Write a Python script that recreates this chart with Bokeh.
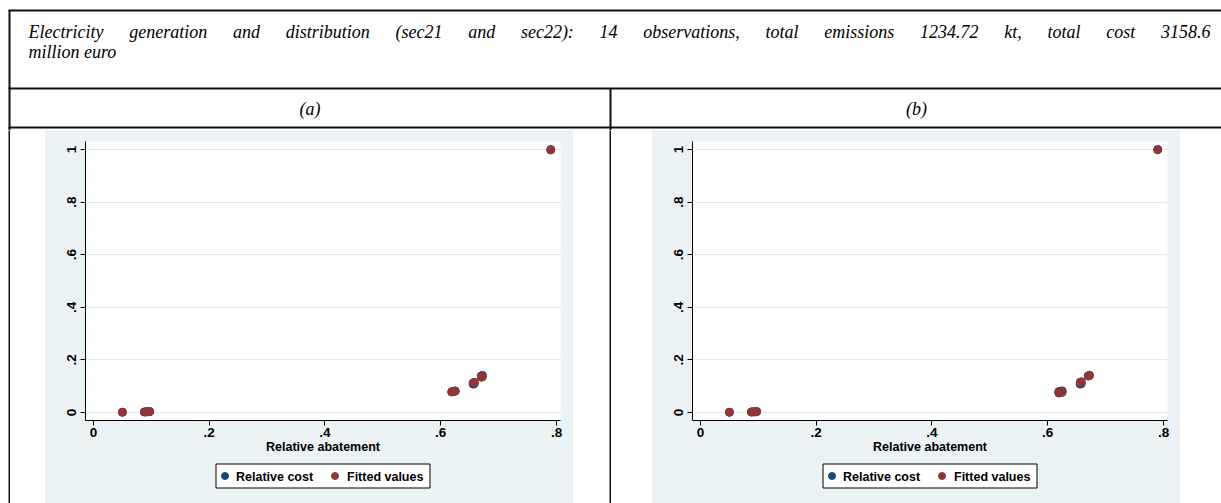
from bokeh.plotting import figure
from bokeh.models import Range1d, FixedTicker
from bokeh.layouts import column, row
from bokeh.embed import file_html
from bokeh.resources import INLINE
from bokeh.core.properties import value

# ---------------- data ----------------
title_line1 = ("Electricity generation and distribution (sec21 and sec22): 14 observations, "
               "total emissions 1234.72 kt, total cost 3158.6")
title_line2 = "million euro"
panel_labels = ["(a)", "(b)"]

abatement = [0.050, 0.088, 0.091, 0.094, 0.097, 0.619, 0.621, 0.623, 0.625,
             0.656, 0.658, 0.670, 0.672, 0.790]
rel_cost = [0.001, 0.002, 0.003, 0.003, 0.004, 0.079, 0.080, 0.081, 0.082,
            0.108, 0.110, 0.139, 0.141, 1.000]
fitted_a = [0.001, 0.002, 0.002, 0.003, 0.003, 0.078, 0.079, 0.080, 0.081,
            0.113, 0.115, 0.134, 0.136, 0.998]
fitted_b = [0.001, 0.002, 0.002, 0.002, 0.003, 0.074, 0.075, 0.076, 0.077,
            0.115, 0.117, 0.139, 0.141, 0.999]

x_ticks = [0, 0.2, 0.4, 0.6, 0.8]
x_tick_labels = ["0", ".2", ".4", ".6", ".8"]
y_ticks = [0, 0.2, 0.4, 0.6, 0.8, 1.0]
y_tick_labels = ["0", ".2", ".4", ".6", ".8", "1"]
x_label = "Relative abatement"
legend_labels = ["Relative cost", "Fitted values"]

# ---------------- style / layout ----------------
NAVY = "#1A476F"
MAROON = "#90353B"
GRAPH_BG = "#EAF2F3"
GRID = "#E2EBEB"
RULE = "#111111"
SANS = "Liberation Sans"
SERIF = "Liberation Serif"
FS = "12.5px"
TICK_FS = "13.5px"

W = 1221
HEAD_H = 130
ROW_H = 373
PLOT_H = 330
LEG_H = ROW_H - PLOT_H
PANEL_W = 528
B_LEFT, B_RIGHT, B_TOP, B_BOTTOM = 40, 13, 11, 40
FRAME_W = PANEL_W - B_LEFT - B_RIGHT

# Times-italic-like advance widths (per 1000 em) to justify the first title line
TI_W = {' ': 250, '(': 333, ')': 333, ',': 250, '.': 250, ':': 333, 'E': 611,
        'a': 500, 'b': 500, 'c': 444, 'd': 500, 'e': 444, 'f': 278, 'g': 500,
        'h': 500, 'i': 278, 'j': 278, 'k': 444, 'l': 278, 'm': 722, 'n': 500,
        'o': 500, 'p': 500, 'q': 500, 'r': 389, 's': 389, 't': 278, 'u': 500,
        'v': 444, 'w': 667, 'x': 444, 'y': 444, 'z': 389}


def word_width(w, size):
    return sum(TI_W.get(c, 500) for c in w) * size / 1000.0


def blank_fig(w, h, color="white", y_flip=False):
    return figure(width=w, height=h, x_range=Range1d(0, w),
                  y_range=Range1d(h, 0) if y_flip else Range1d(0, h),
                  toolbar_location=None, output_backend="svg", min_border=0,
                  x_axis_type=None, y_axis_type=None, outline_line_color=None,
                  border_fill_color=color, background_fill_color=color)


# ---------------- header (table rows) ----------------
head = blank_fig(W, HEAD_H, y_flip=True)
head.segment(x0=[8, 8, 8, 9, 610], y0=[10, 88, 127, 10, 88],
             x1=[W, W, W, 9, 610], y1=[10, 88, 127, HEAD_H, HEAD_H],
             line_color=RULE, line_width=2)

TSIZE = 18
words = title_line1.split(" ")
widths = [word_width(w, TSIZE) for w in words]
x_start, x_end = 28.0, 1210.0
gap = (x_end - x_start - sum(widths)) / (len(words) - 1)
xs = []
cx = x_start
for wd in widths:
    xs.append(cx)
    cx += wd + gap
head.text(x=xs, y=[31] * len(words), text=words, text_font=value(SERIF),
          text_font_style="italic", text_font_size=f"{TSIZE}px",
          text_align="left", text_baseline="alphabetic", text_color="black")
head.text(x=[28], y=[51], text=[title_line2], text_font=value(SERIF),
          text_font_style="italic", text_font_size=f"{TSIZE}px",
          text_align="left", text_baseline="alphabetic", text_color="black")
head.text(x=[309.5, 916], y=[108, 108], text=panel_labels, text_font=value(SERIF),
          text_font_style="italic", text_font_size=f"{TSIZE}px",
          text_align="center", text_baseline="middle", text_color="black")


# ---------------- panels ----------------
def make_legend_fig():
    lg = figure(width=PANEL_W, height=LEG_H, x_range=Range1d(0, FRAME_W),
                y_range=Range1d(LEG_H, 0), toolbar_location=None, output_backend="svg",
                min_border_left=B_LEFT, min_border_right=B_RIGHT,
                min_border_top=0, min_border_bottom=0,
                x_axis_type=None, y_axis_type=None, outline_line_color=None,
                border_fill_color=GRAPH_BG, background_fill_color=GRAPH_BG)
    # legend box (layout decoration), centred under the plot region
    bw = 214
    bx = (FRAME_W - bw) / 2.0
    lg.quad(left=[bx], right=[bx + bw], top=[3.5], bottom=[27.5],
            fill_color="white", line_color="black", line_width=1)
    lg.scatter(x=[bx + 9, bx + 119], y=[15.5, 15.5], size=7,
               fill_color=[NAVY, MAROON], line_color=[NAVY, MAROON])
    lg.text(x=[bx + 20, bx + 131], y=[16, 16], text=legend_labels,
            text_font=value(SANS), text_font_style="bold", text_font_size=FS,
            text_align="left", text_baseline="middle", text_color="black")
    return lg


def make_panel(fitted):
    p = figure(width=PANEL_W, height=PLOT_H,
               x_range=Range1d(-0.0138, 0.8069), y_range=Range1d(-0.0304, 1.0304),
               toolbar_location=None, output_backend="svg",
               min_border_left=B_LEFT, min_border_right=B_RIGHT,
               min_border_top=B_TOP, min_border_bottom=B_BOTTOM,
               border_fill_color=GRAPH_BG, background_fill_color="white",
               outline_line_color=None)
    p.xaxis.ticker = FixedTicker(ticks=x_ticks)
    p.yaxis.ticker = FixedTicker(ticks=y_ticks)
    p.xaxis.major_label_overrides = dict(zip(x_ticks, x_tick_labels))
    p.yaxis.major_label_overrides = dict(zip(y_ticks, y_tick_labels))
    p.yaxis.major_label_orientation = "vertical"
    for ax in (p.xaxis, p.yaxis):
        ax.axis_line_color = "black"
        ax.axis_line_width = 1
        ax.major_tick_line_color = "black"
        ax.major_tick_in = 0
        ax.major_tick_out = 5
        ax.minor_tick_line_color = None
        ax.major_label_text_font = SANS
        ax.major_label_text_font_style = "bold"
        ax.major_label_text_font_size = TICK_FS
        ax.major_label_text_color = "black"
    p.xaxis.major_label_standoff = 2
    p.yaxis.major_label_standoff = 4
    p.xaxis.axis_label = x_label
    p.xaxis.axis_label_text_font = SANS
    p.xaxis.axis_label_text_font_style = "bold"
    p.xaxis.axis_label_text_font_size = FS
    p.xaxis.axis_label_text_color = "black"
    p.xaxis.axis_label_standoff = 0
    p.xgrid.visible = False
    p.ygrid.ticker = FixedTicker(ticks=y_ticks)
    p.ygrid.grid_line_color = GRID
    p.ygrid.grid_line_width = 1.2

    p.scatter(abatement, rel_cost, size=8, fill_color=NAVY, line_color=NAVY)
    p.scatter(abatement, fitted, size=8, fill_color=MAROON, line_color=MAROON)
    return column(p, make_legend_fig(), styles={"background-color": GRAPH_BG})


pa = make_panel(fitted_a)
pb = make_panel(fitted_b)

panel_row = row(blank_fig(8, ROW_H), blank_fig(2, ROW_H, RULE), blank_fig(35, ROW_H),
                pa,
                blank_fig(36, ROW_H), blank_fig(2, ROW_H, RULE), blank_fig(41, ROW_H),
                pb,
                blank_fig(41, ROW_H))

layout = column(head, panel_row)

with open("out.html", "w") as fh:
    fh.write(file_html(layout, INLINE))
